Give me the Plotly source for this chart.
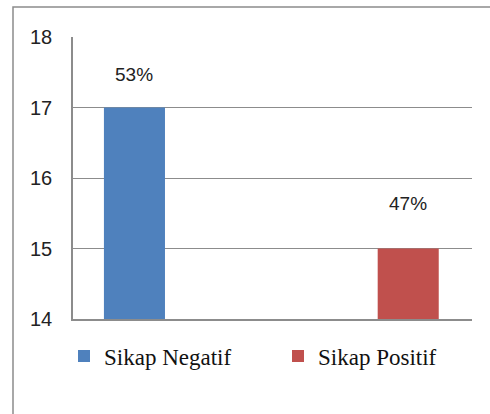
import plotly.graph_objects as go

categories = ["Sikap Negatif", "Sikap Positif"]
values = [17, 15]
labels = ["53%", "47%"]
colors = ["#4F81BD", "#C0504D"]
y_ticks = [14, 15, 16, 17, 18]

W, H = 490, 414
L, R, T, B = 73, 472, 37, 319
pw, ph = R - L, B - T

fig = go.Figure()
legend_names = ["legend", "legend2"]
for i, (cat, val, col) in enumerate(zip(categories, values, colors)):
    fig.add_trace(go.Bar(
        x=[i], y=[val], name=cat, marker=dict(color=col, line=dict(width=0)),
        width=0.223, base=0, legend=legend_names[i],
    ))

label_shift = [33, 45]
for i, (val, lab) in enumerate(zip(values, labels)):
    fig.add_annotation(x=i, y=val, text=lab, showarrow=False, yshift=label_shift[i],
                       font=dict(family="Liberation Sans", size=19, color="#222"))

fig.add_shape(type="rect", xref="paper", yref="paper",
              x0=(13 - L) / pw, x1=(W + 5 - L) / pw,
              y0=(B - (H + 5)) / ph, y1=(B - 7) / ph,
              line=dict(color="#8c8c8c", width=1.5), layer="below")

legend_font = dict(family="Liberation Serif", size=23, color="#111")
common = dict(orientation="h", xref="container", yref="container", xanchor="left",
              yanchor="middle", y=1 - 356 / H, font=legend_font, itemwidth=30,
              bgcolor="rgba(0,0,0,0)")

fig.update_layout(
    width=W, height=H,
    margin=dict(l=L, r=W - R, t=T, b=H - B, autoexpand=False),
    paper_bgcolor="white", plot_bgcolor="white",
    showlegend=True,
    legend=dict(x=64 / W, **common),
    legend2=dict(x=278 / W, **common),
    xaxis=dict(range=[-0.2245, 1.233], showticklabels=False, showgrid=False, zeroline=False,
               showline=True, linecolor="#8c8c8c", linewidth=1.5, ticks="", automargin=False),
    yaxis=dict(range=[14, 18], tickvals=y_ticks, showgrid=True, gridcolor="#8c8c8c", gridwidth=1.2,
               showline=True, linecolor="#8c8c8c", linewidth=1.5, zeroline=False,
               ticks="", ticklabelstandoff=15, automargin=False,
               tickfont=dict(family="Liberation Sans", size=20, color="#222")),
)

fig.write_html("out.html")
